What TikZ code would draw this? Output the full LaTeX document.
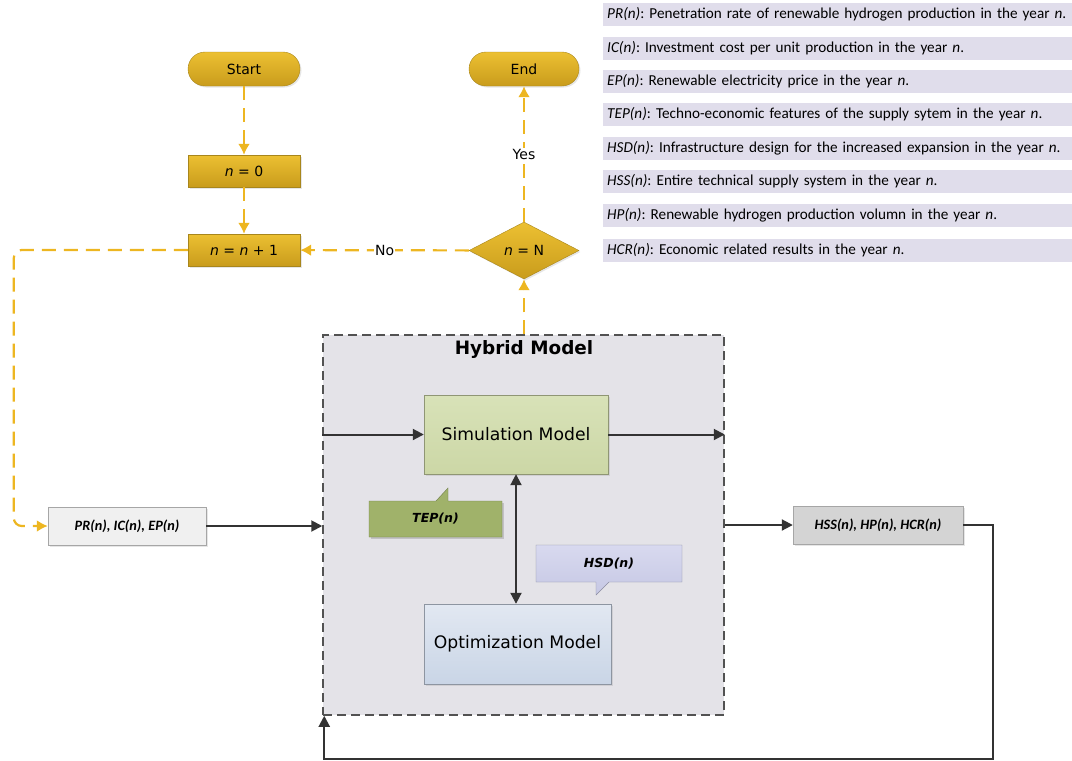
\documentclass[tikz,border=0pt]{standalone}
\usepackage{fontspec}
\setmainfont{DejaVu Sans}
\newfontfamily\vfont{DejaVu Sans}
\newfontfamily\cfont{Carlito}
\frenchspacing
\usetikzlibrary{arrows.meta,shapes.geometric,shadows}
\definecolor{goldA}{HTML}{ECC032}
\definecolor{goldB}{HTML}{C99C1C}
\definecolor{goldD}{HTML}{A8861C}
\definecolor{ydash}{HTML}{EDB621}
\definecolor{dk}{HTML}{333333}
\definecolor{hybfill}{HTML}{E4E3E8}
\definecolor{simA}{HTML}{D8E2B8}
\definecolor{simB}{HTML}{CCD7A6}
\definecolor{optA}{HTML}{E2E8F2}
\definecolor{optB}{HTML}{C9D5E6}
\definecolor{tepfill}{HTML}{A0B26A}
\definecolor{hsdA}{HTML}{D8D9EF}
\definecolor{hsdB}{HTML}{C6C8E4}
\definecolor{legfill}{HTML}{E0DDEB}
\tikzset{
  gold/.style={draw=goldD, top color=goldA, bottom color=goldB, minimum width=112pt, minimum height=32pt, inner sep=0pt, font=\vfont\fontsize{14}{16}\selectfont, drop shadow={opacity=0.2, shadow xshift=1.5pt, shadow yshift=-1.5pt}},
  yarr/.style={draw=ydash, line width=2.2pt, dash pattern=on 14pt off 8pt, -{Latex[length=11pt,width=12pt]}},
  darr/.style={draw=dk, line width=2pt, -{Triangle[length=11pt,width=11pt]}},
  legrow/.style={fill=legfill, anchor=west, minimum height=23pt, text width=461pt, inner xsep=4pt, align=left, font=\cfont\fontsize{15.2}{17}\selectfont},
  lab/.style={font=\vfont\fontsize{14}{16}\selectfont, fill=white, inner sep=1pt},
  bi/.style={font=\cfont\fontsize{14.3}{16}\selectfont\bfseries\itshape},
  box/.style={drop shadow={opacity=0.2, shadow xshift=1.5pt, shadow yshift=-1.5pt}}
}
\begin{document}
\begin{tikzpicture}[x=1pt,y=-1pt]
\useasboundingbox (0,0) rectangle (1072,761);
% legend
\node[legrow] (l1) at (603,14.5) {\textit{PR(n)}: Penetration rate of renewable hydrogen production in the year \textit{n}.};
\node[legrow] (l2) at (603,48) {\textit{IC(n)}: Investment cost per unit production in the year \textit{n}.};
\node[legrow] (l3) at (603,81) {\textit{EP(n)}: Renewable electricity price in the year \textit{n}.};
\node[legrow] (l4) at (603,114.5) {\textit{TEP(n)}: Techno-economic features of the supply sytem in the year \textit{n}.};
\node[legrow] (l5) at (603,148) {\textit{HSD(n)}: Infrastructure design for the increased expansion in the year \textit{n}.};
\node[legrow] (l6) at (603,181) {\textit{HSS(n)}: Entire technical supply system in the year \textit{n}.};
\node[legrow] (l7) at (603,215) {\textit{HP(n)}: Renewable hydrogen production volumn in the year \textit{n}.};
\node[legrow] (l8) at (603,250) {\textit{HCR(n)}: Economic related results in the year \textit{n}.};
% hybrid model
\node[draw=dk!85, line width=1.5pt, dash pattern=on 9pt off 5pt, fill=hybfill, minimum width=401pt, minimum height=380pt, inner sep=0pt] (hyb) at (523.5,525) {};
\node[font=\vfont\fontsize{18.4}{21}\selectfont\bfseries] (ht) at (524,349) {Hybrid Model};
\node[draw=simB!70!black, top color=simA, bottom color=simB, minimum width=184pt, minimum height=79pt, font=\vfont\fontsize{17.2}{20}\selectfont, box] (sim) at (516,434.5) {Simulation Model};
\node[draw=optB!70!black, top color=optA, bottom color=optB, minimum width=187pt, minimum height=80pt, font=\vfont\fontsize{17.2}{20}\selectfont, box] (opt) at (517.5,644) {Optimization Model};
% callouts
\fill[black, opacity=0.15] (370.5,502.5) -- (503.5,502.5) -- (503.5,538.5) -- (370.5,538.5) -- cycle;
\draw[fill=tepfill, draw=tepfill!70!black] (369,501) -- (436,501) -- (448,488) -- (448,501) -- (502,501) -- (502,537) -- (369,537) -- cycle;
\node[font=\vfont\fontsize{12.5}{15}\selectfont\bfseries\itshape] (tep) at (435.5,519) {TEP(n)};
\draw[top color=hsdA, bottom color=hsdB, draw=hsdB!70!black] (536,545) -- (682,545) -- (682,582) -- (609,582) -- (596,595) -- (596,582) -- (536,582) -- cycle;
\node[font=\vfont\fontsize{12.5}{15}\selectfont\bfseries\itshape] (hsd) at (609,563.5) {HSD(n)};
% flowchart
\node[gold, rounded corners=17pt, minimum height=34pt] (start) at (244,69) {Start};
\node[gold, rounded corners=17pt, minimum height=34pt, minimum width=110pt] (end) at (524,69) {End};
\node[gold] (n0) at (244,171) {\textit{n} = 0};
\node[gold] (n1) at (244,250) {\textit{n} = \textit{n} + 1};
\node[gold, diamond, minimum width=110pt, minimum height=57pt] (dia) at (524,250.5) {\textit{n} = N};
\draw[yarr] (start) -- (n0);
\draw[yarr] (n0) -- (n1);
\draw[yarr] (dia) -- node[lab] (no) {No} (n1);
\draw[yarr] (dia) -- node[lab, pos=0.5] (yes) {Yes} (end);
\draw[yarr] (hyb.north -| dia.south) -- (dia.south);
% inputs / outputs
\node[draw=black!35, fill=black!6, minimum width=158pt, minimum height=38pt, bi, box] (pr) at (127,526) {PR(n), IC(n), EP(n)};
\node[draw=black!35, fill=black!17, minimum width=170pt, minimum height=38pt, bi, box] (hss) at (878,525) {HSS(n), HP(n), HCR(n)};
\draw[yarr, rounded corners=8pt] (n1.west) -- ++(-174,0) |- (pr.west);
\draw[darr] (pr.east) -- (pr.east -| hyb.west);
\draw[darr] (hyb.west |- sim.west) -- (sim.west);
\draw[darr] (sim.east) -- (sim.east -| hyb.east);
\draw[darr, {Triangle[length=11pt,width=11pt]}-{Triangle[length=11pt,width=11pt]}] (sim.south) -- (opt.north -| sim.south);
\draw[darr] (hyb.east |- hss.west) -- (hss.west);
\coordinate (fbc) at (993,759);
\draw[darr] (hss.east) -| (fbc) -| ([xshift=2pt]hyb.south west);
\end{tikzpicture}
\end{document}
